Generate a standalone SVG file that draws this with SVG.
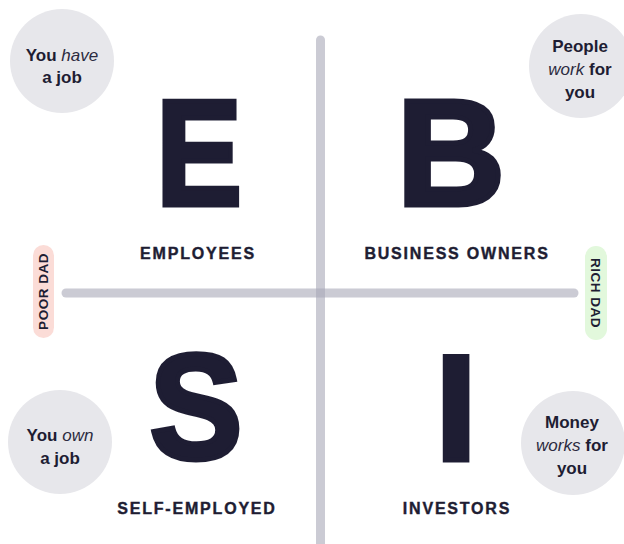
<svg xmlns="http://www.w3.org/2000/svg" width="624" height="544" viewBox="0 0 624 544">
<style>
.big{font-family:"Liberation Sans",Arial,sans-serif;font-weight:bold;font-size:150px;fill:#1e1d33;stroke:#1e1d33;stroke-width:5;stroke-linejoin:miter;text-anchor:middle}
.lab{font-family:"Liberation Sans",Arial,sans-serif;font-weight:bold;font-size:16px;fill:#1e1d33;stroke:#1e1d33;stroke-width:0.4;letter-spacing:1.8px;text-anchor:middle}
.bub{fill:#e7e7eb}
.bt{font-family:"Liberation Sans",Arial,sans-serif;font-size:17px;fill:#1e1d33;text-anchor:middle}
.b{font-weight:bold}
.i{font-style:italic;font-weight:normal;fill:#2c2b40}
.side{font-family:"Liberation Sans",Arial,sans-serif;font-weight:bold;font-size:13.5px;fill:#1e1d33;text-anchor:middle;letter-spacing:0.5px}
.axis{stroke:#a9a9b8;stroke-opacity:0.6;stroke-width:9;stroke-linecap:round;fill:none}
</style>
<rect width="624" height="544" fill="#ffffff"/>
<g id="connectors">
<line class="axis" x1="320.5" y1="40" x2="320.5" y2="560"/>
<line class="axis" x1="66" y1="293" x2="574" y2="293"/>
</g>
<g id="bubble-tl"><circle class="bub" cx="62" cy="61" r="52"/>
<text class="bt" x="62" y="61"><tspan class="b">You</tspan> <tspan class="i">have</tspan></text>
<text class="bt b" x="62" y="83">a job</text></g>
<g id="bubble-tr"><circle class="bub" cx="581" cy="66" r="52"/>
<text class="bt b" x="580" y="52">People</text>
<text class="bt" x="580" y="75"><tspan class="i">work</tspan> <tspan class="b">for</tspan></text>
<text class="bt b" x="580" y="98">you</text></g>
<g id="bubble-bl"><circle class="bub" cx="60" cy="442" r="52"/>
<text class="bt" x="60" y="441"><tspan class="b">You</tspan> <tspan class="i">own</tspan></text>
<text class="bt b" x="60" y="464">a job</text></g>
<g id="bubble-br"><circle class="bub" cx="573" cy="443" r="52"/>
<text class="bt b" x="572" y="428">Money</text>
<text class="bt" x="572" y="451"><tspan class="i">works</tspan> <tspan class="b">for</tspan></text>
<text class="bt b" x="572" y="474">you</text></g>
<g id="quadrant-e"><text class="big" transform="translate(199,205) scale(0.86,1)">E</text><text class="lab" x="198" y="259">EMPLOYEES</text></g>
<g id="quadrant-b"><text class="big" x="451" y="205">B</text><text class="lab" x="457" y="259">BUSINESS OWNERS</text></g>
<g id="quadrant-s"><text class="big" transform="translate(196,459) scale(0.93,1)">S</text><text class="lab" x="197" y="514">SELF-EMPLOYED</text></g>
<g id="quadrant-i"><text class="big" x="456" y="460">I</text><text class="lab" x="457" y="514">INVESTORS</text></g>
<g id="poor-dad"><rect x="33" y="245" width="21" height="93" rx="10.5" fill="#fbdcd7"/>
<text class="side" transform="translate(48,291.5) rotate(-90)">POOR DAD</text></g>
<g id="rich-dad"><rect x="585" y="246" width="22" height="94" rx="11" fill="#e2f8dc"/>
<text class="side" transform="translate(591,293) rotate(90)">RICH DAD</text></g>
</svg>
